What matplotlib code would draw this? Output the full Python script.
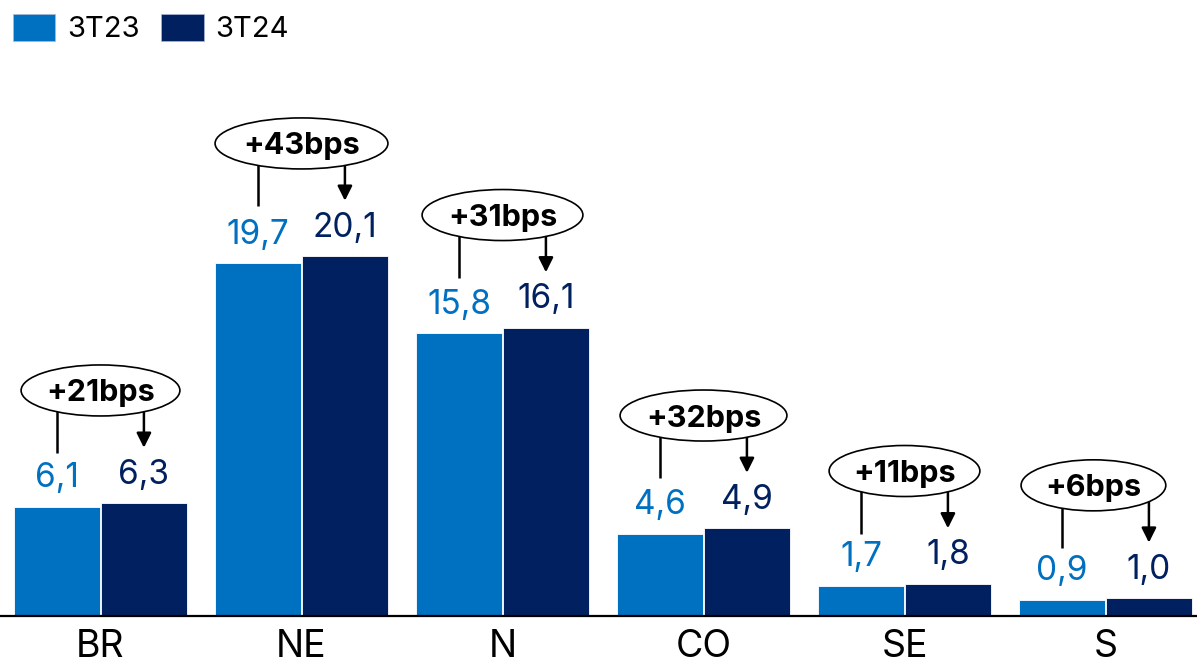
import matplotlib.pyplot as plt
from matplotlib.patches import Ellipse, Patch
import numpy as np

# data
regions = ["BR", "NE", "N", "CO", "SE", "S"]
t23 = [6.1, 19.7, 15.8, 4.6, 1.7, 0.9]
t24 = [6.3, 20.1, 16.1, 4.9, 1.8, 1.0]
t23_labels = ["6,1", "19,7", "15,8", "4,6", "1,7", "0,9"]
t24_labels = ["6,3", "20,1", "16,1", "4,9", "1,8", "1,0"]
deltas = ["+21bps", "+43bps", "+31bps", "+32bps", "+11bps", "+6bps"]
series_names = ["3T23", "3T24"]

# style
c23 = "#0070C0"
c24 = "#002060"
ell_w = [0.79, 0.86, 0.80, 0.83, 0.75, 0.72]
ell_dx = [0, 0, 0, 0, 0, -0.06]
FONT = "Inter"

W, H = 1197, 667
fig = plt.figure(figsize=(W / 100, H / 100), dpi=100)
fig.patch.set_facecolor("white")
ax = fig.add_axes([0, 51 / H, 1, 616 / H])
ax.set_xlim(-0.5, (W - 100.5) / 201)
ax.set_ylim(0, 616 / 17.9)
ax.axis("off")

x = np.arange(len(regions))
bw = 0.43
off = 0.216
ax.bar(x - off, t23, bw, color=c23, edgecolor="white", linewidth=0.6, zorder=2)
ax.bar(x + off, t24, bw, color=c24, edgecolor="white", linewidth=0.6, zorder=2)
ax.axhline(0, color="black", lw=1.6, clip_on=False, zorder=3)

for i in range(len(regions)):
    ax.annotate(t23_labels[i], (x[i] - off, t23[i]), xytext=(0, 14), textcoords="offset points",
                ha="center", va="baseline", fontsize=24, color=c23, family=FONT)
    ax.annotate(t24_labels[i], (x[i] + off, t24[i]), xytext=(0, 14), textcoords="offset points",
                ha="center", va="baseline", fontsize=24, color=c24, family=FONT)

    top = max(t23[i], t24[i])
    cy = top + 6.3
    cx = x[i] + ell_dx[i]
    ax.plot([x[i] - off, x[i] - off], [cy, top + 2.8], color="black", lw=1.8, zorder=4,
            solid_capstyle="butt")
    ax.annotate("", xy=(x[i] + off, top + 3.1), xytext=(x[i] + off, cy),
                arrowprops=dict(arrowstyle="-|>", color="black", lw=1.8, mutation_scale=22,
                                shrinkA=0, shrinkB=0), zorder=4)
    ax.add_patch(Ellipse((cx, cy), ell_w[i], 2.85, facecolor="white", edgecolor="black",
                         lw=1.2, zorder=5))
    ax.text(cx, cy, deltas[i], ha="center", va="center_baseline", fontsize=22,
            fontweight="bold", family=FONT, zorder=6)

    ax.annotate(regions[i], (x[i], 0), xytext=(0, -35.5), textcoords="offset points",
                ha="center", va="bottom", fontsize=27, family=FONT,
                annotation_clip=False)

handles = [Patch(facecolor=c23, edgecolor="#a9b8d6", lw=0.5),
           Patch(facecolor=c24, edgecolor="#a9b8d6", lw=0.5)]
ax.legend(handles, series_names, loc="upper left", bbox_to_anchor=(13 / W, 1 - 14 / H),
          bbox_transform=fig.transFigure, frameon=False, ncol=2, borderpad=0,
          borderaxespad=0, handlelength=1.45, handleheight=1.05, handletextpad=0.4,
          columnspacing=0.75, prop={"family": FONT, "size": 21})

fig.savefig("out.png", dpi=100)
